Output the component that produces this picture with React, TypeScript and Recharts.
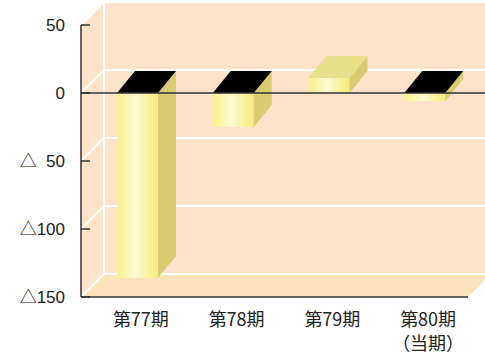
import React from 'react';
import { BarChart, Bar, XAxis, YAxis, CartesianGrid, ReferenceArea, ReferenceLine } from 'recharts';

const categories = ['第77期', '第78期', '第79期', '第80期'];
const subLabels = ['', '', '', '（当期）'];
const values = [-136, -25, 11, -6];
const yTicks = [-150, -100, -50, 0, 50];
const yTickLabels = ['△150', '△100', '△ 50', '0', '50'];

const data = categories.map((name, i) => ({ name, sub: subLabels[i], value: values[i] }));

const W = 485;
const H = 358;
const WALL_DX = 23;
const WALL_DY = 23;
const BAR_DX = 18;
const BAR_DY = 22;
const LEFT_INSET = 9;
const RIGHT_INSET = 5;
const WALL = '#FDE3CA';
const FLOOR = '#FCE3BA';
const AXIS = '#333333';
const NUM_FONT = "'Liberation Sans', Arial, Helvetica, sans-serif";
const CJK_FONT = "'Noto Sans CJK JP', 'Noto Sans CJK SC', sans-serif";

const Frame = (p: any) => {
  const { x, y, width, height } = p;
  const top = y;
  const bottom = y + height;
  const fl = x - LEFT_INSET;
  const fr = x + width - RIGHT_INSET;
  return (
    <g>
      <rect x={fl + WALL_DX} y={top - WALL_DY} width={fr - fl} height={bottom - top} fill={WALL} />
      <polygon
        points={`${fl},${top} ${fl + WALL_DX},${top - WALL_DY} ${fl + WALL_DX},${bottom - WALL_DY} ${fl},${bottom}`}
        fill={WALL}
      />
      <polygon
        points={`${fl},${bottom} ${fr},${bottom} ${fr + WALL_DX},${bottom - WALL_DY} ${fl + WALL_DX},${bottom - WALL_DY}`}
        fill={FLOOR}
      />
      <line x1={fl + WALL_DX} y1={top - WALL_DY} x2={fl + WALL_DX} y2={bottom - WALL_DY} stroke="#fff" strokeWidth={2} />
    </g>
  );
};

const GridLine = (p: any) => {
  const { x1, y1, x2, index } = p;
  const fl = x1 - LEFT_INSET;
  const fr = x2 - RIGHT_INSET;
  return (
    <g key={`grid-${index}`}>
      <line x1={fl + WALL_DX} y1={y1 - WALL_DY} x2={fr + WALL_DX} y2={y1 - WALL_DY} stroke="#fff" strokeWidth={2} />
      <line x1={fl} y1={y1} x2={fl + WALL_DX} y2={y1 - WALL_DY} stroke="#fff" strokeWidth={2} />
    </g>
  );
};

const AxisFrame = (p: any) => {
  const { x, y, width, height } = p;
  const fl = x - LEFT_INSET;
  const fr = x + width - RIGHT_INSET;
  const bottom = y + height;
  return (
    <g>
      <line x1={fl} y1={y} x2={fl} y2={bottom} stroke={AXIS} strokeWidth={1.5} />
      <line x1={fl} y1={bottom} x2={fr} y2={bottom} stroke={AXIS} strokeWidth={1.5} />
    </g>
  );
};

const Bar3D = (p: any) => {
  const { x, y, width, height, index, payload } = p;
  const top = Math.min(y, y + height);
  const h = Math.abs(height);
  const bottom = top + h;
  const neg = payload.value < 0;
  const gid = `front-${index}`;
  return (
    <g>
      <defs>
        <linearGradient id={gid} x1="0" y1="0" x2="1" y2="0">
          <stop offset="0%" stopColor="#F8F18A" />
          <stop offset="45%" stopColor="#FFF9D2" />
          <stop offset="100%" stopColor="#F4EB7A" />
        </linearGradient>
      </defs>
      <rect x={x} y={top} width={width} height={h} fill={`url(#${gid})`} />
      <polygon
        points={`${x + width},${top} ${x + width + BAR_DX},${top - BAR_DY} ${x + width + BAR_DX},${bottom - BAR_DY} ${x + width},${bottom}`}
        fill="#D9CC70"
      />
      <polygon
        points={`${x},${top} ${x + width},${top} ${x + width + BAR_DX},${top - BAR_DY} ${x + BAR_DX},${top - BAR_DY}`}
        fill={neg ? '#000000' : '#E8DF8C'}
      />
    </g>
  );
};

const YTick = (p: any) => {
  const { x, y, payload } = p;
  const idx = yTicks.indexOf(payload.value);
  const label = idx >= 0 ? yTickLabels[idx] : String(payload.value);
  const tri = label.startsWith('△');
  const num = (tri ? label.slice(1) : label).replace(/ /g, '\u2007');
  return (
    <g>
      <line x1={x - LEFT_INSET} y1={y} x2={x} y2={y} stroke={AXIS} strokeWidth={1.5} />
      <text x={x - 25} y={y} dy="0.36em" textAnchor="end" fontSize={17} fill="#222" fontFamily={NUM_FONT}>
        {tri ? <tspan fontFamily={CJK_FONT}>△</tspan> : null}
        <tspan>{num}</tspan>
      </text>
    </g>
  );
};

const XTick = (p: any) => {
  const { x, y, payload, index } = p;
  const sub = subLabels[index] ?? '';
  return (
    <g>
      <text x={x + 3} y={y + 29} textAnchor="middle" fontSize={18} fill="#222" fontFamily={CJK_FONT}>
        {payload.value}
      </text>
      {sub ? (
        <text x={x + 3} y={y + 53} textAnchor="middle" fontSize={18} fill="#222" fontFamily={CJK_FONT}>
          {sub}
        </text>
      ) : null}
    </g>
  );
};

const ZeroLine = (p: any) => {
  const { x1, y1 } = p;
  return <line x1={x1 - LEFT_INSET} y1={y1} x2={W} y2={y1} stroke={AXIS} strokeWidth={1.5} />;
};

export default function App() {
  return (
    <div style={{ position: 'absolute', left: 0, top: 0, width: W, height: H, background: '#fff' }}>
      <BarChart width={W} height={H} data={data} margin={{ top: 25, right: 12, bottom: 0, left: 0 }}>
        <ReferenceArea y1={-150} y2={50} shape={Frame} zIndex={-300} ifOverflow="visible" />
        <CartesianGrid vertical={false} horizontal={GridLine} zIndex={-200} />
        <ReferenceArea y1={-150} y2={50} shape={AxisFrame} zIndex={-150} ifOverflow="visible" />
        <XAxis
          dataKey="name"
          height={61}
          axisLine={false}
          tickLine={false}
          tickSize={0}
          tickMargin={0}
          tick={XTick}
          interval={0}
        />
        <YAxis
          width={90}
          domain={[-150, 50]}
          ticks={yTicks}
          axisLine={false}
          tickLine={false}
          tickSize={0}
          tickMargin={0}
          tick={YTick}
          allowDataOverflow
        />
        <Bar dataKey="value" barSize={41} shape={Bar3D} isAnimationActive={false} />
        <ReferenceLine y={0} shape={ZeroLine} ifOverflow="visible" />
      </BarChart>
    </div>
  );
}
